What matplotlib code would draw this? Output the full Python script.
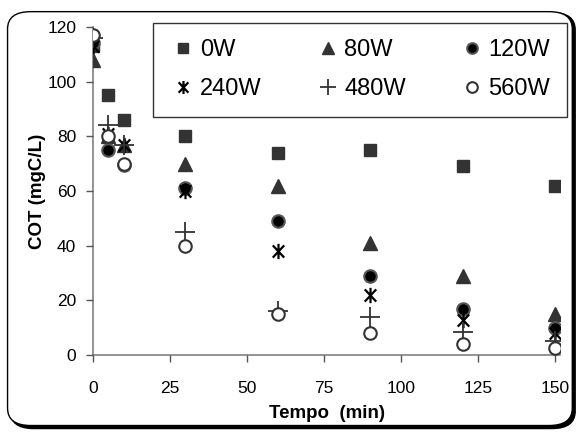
import numpy as np
import matplotlib
matplotlib.use('Agg')
import matplotlib.pyplot as plt
from matplotlib.patches import FancyBboxPatch
from matplotlib.path import Path

plt.rcParams['font.family'] = ['Liberation Sans', 'DejaVu Sans']

# tempo (min)
tempo = [0, 5, 10, 30, 60, 90, 120, 150]

# COT (mgC/L) por potencia
cot_0w = [113, 95, 86, 80, 74, 75, 69, 62]
cot_80w = [108, 80, 77, 70, 62, 41, 29, 15]
cot_120w = [114, 75, 69.5, 61, 49, 29, 17, 10]
cot_240w = [113, 81, 77, 60, 38, 22, 13, 8]
cot_480w = [116, 84, 77, 45, 16, 14, 8.5, 5]
cot_560w = [117, 80, 70, 40, 15, 8, 4, 2.5]

# asterisco tipo "ж": traço vertical + X
ast = Path([(0, -1), (0, 1), (-0.75, -0.8), (0.75, 0.8), (-0.75, 0.8), (0.75, -0.8)],
           [Path.MOVETO, Path.LINETO, Path.MOVETO, Path.LINETO, Path.MOVETO, Path.LINETO])

fig = plt.figure(figsize=(5.81, 4.32), dpi=100)
ax = fig.add_axes([0.160, 0.178, 0.804, 0.7595])

cinza = '#333333'
h0, = ax.plot(tempo, cot_0w, ls='none', marker='s', ms=9, mfc=cinza, mec=cinza, label='0W')
h80, = ax.plot(tempo, cot_80w, ls='none', marker='^', ms=10, mfc=cinza, mec=cinza, label='80W')
h120, = ax.plot(tempo, cot_120w, ls='none', marker='o', ms=9, mfc='black', mec='#555555', mew=1.5, label='120W')
h240, = ax.plot(tempo, cot_240w, ls='none', marker=ast, ms=11, mec='black', mew=1.6, label='240W')
h480, = ax.plot(tempo, cot_480w, ls='none', marker='+', ms=14, mec=cinza, mew=1.3, label='480W')
h560, = ax.plot(tempo, cot_560w, ls='none', marker='o', ms=9, mfc='white', mec=cinza, mew=1.5, label='560W')

ax.set_xlim(0, 151.5)
ax.set_ylim(0, 120)
ax.set_xticks([0, 25, 50, 75, 100, 125, 150])
ax.set_yticks(np.arange(0, 121, 20))
ax.spines['top'].set_visible(False)
ax.spines['right'].set_visible(False)
for lado in ['left', 'bottom']:
    ax.spines[lado].set_color('#808080')
    ax.spines[lado].set_linewidth(1.2)
    ax.spines[lado].set_zorder(0)
ax.tick_params(direction='out', length=5, width=1, color='#555555', labelsize=12.5)
ax.tick_params(axis='x', pad=14)
ax.tick_params(axis='y', pad=7)
ax.set_xlabel('Tempo  (min)', fontsize=13.5, fontweight='bold', labelpad=6)
ax.set_ylabel('COT (mgC/L)', fontsize=13.5, fontweight='bold', labelpad=1)

# ordem por linhas: 0W 80W 120W / 240W 480W 560W
alcas = [h0, h240, h80, h480, h120, h560]
leg = fig.legend(alcas, [a.get_label() for a in alcas], loc='upper left',
                 bbox_to_anchor=(0.263, 0.947), ncol=3, fontsize=17,
                 frameon=True, fancybox=False, edgecolor='black', markerscale=0.85,
                 handlelength=1.2, handletextpad=0.1, columnspacing=2.2,
                 borderpad=0.7, labelspacing=0.72, borderaxespad=0)
leg.get_frame().set_linewidth(1.0)

# moldura arredondada com sombra
sombra = FancyBboxPatch((0.018, 0.008), 0.972, 0.963, boxstyle='round,pad=0,rounding_size=0.04',
                        transform=fig.transFigure, facecolor='black', edgecolor='black', lw=1, zorder=-2)
borda = FancyBboxPatch((0.013, 0.015), 0.972, 0.958, boxstyle='round,pad=0,rounding_size=0.04',
                       transform=fig.transFigure, facecolor='white', edgecolor='black', lw=1, zorder=-1)
fig.patches.extend([sombra, borda])

fig.savefig('out.png', dpi=100)
plt.close()
